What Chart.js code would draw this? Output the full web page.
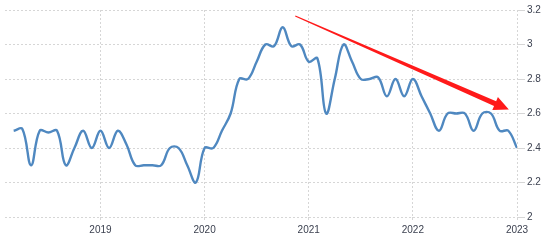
<!DOCTYPE html>
<html>
<head>
<meta charset="utf-8">
<script src="https://cdn.jsdelivr.net/npm/chart.js@4"></script>
<style>
html,body{margin:0;padding:0;background:#fff;}
#wrap{width:556px;height:246px;}
</style>
</head>
<body>
<div id="wrap"><canvas id="c" width="556" height="246"></canvas></div>
<script>
const months = [
 '2018-03','2018-04','2018-05','2018-06','2018-07','2018-08','2018-09','2018-10','2018-11','2018-12',
 '2019-01','2019-02','2019-03','2019-04','2019-05','2019-06','2019-07','2019-08','2019-09','2019-10','2019-11','2019-12',
 '2020-01','2020-02','2020-03','2020-04','2020-05','2020-06','2020-07','2020-08','2020-09','2020-10','2020-11','2020-12',
 '2021-01','2021-02','2021-03','2021-04','2021-05','2021-06','2021-07','2021-08','2021-09','2021-10','2021-11','2021-12',
 '2022-01','2022-02','2022-03','2022-04','2022-05','2022-06','2022-07','2022-08','2022-09','2022-10','2022-11','2022-12',
 '2023-01'
];
const values = [
 2.5,2.51,2.3,2.5,2.49,2.5,2.3,2.4,2.5,2.4,
 2.5,2.4,2.5,2.42,2.3,2.3,2.3,2.3,2.4,2.4,2.3,2.2,
 2.4,2.4,2.5,2.6,2.8,2.8,2.9,3.0,2.99,3.1,2.99,3.0,
 2.9,2.92,2.6,2.8,3.0,2.9,2.8,2.8,2.81,2.7,2.8,2.7,
 2.8,2.7,2.6,2.5,2.6,2.6,2.6,2.5,2.6,2.6,2.5,2.5,
 2.4
];
const yearTicks = ['2019','2020','2021','2022','2023'];
const yTicks = [2, 2.2, 2.4, 2.6, 2.8, 3, 3.2];
const yTickLabels = ['2','2.2','2.4','2.6','2.8','3','3.2'];
// trend arrow annotation in data space: [monthIndex, value]
const arrowStart = [34.45, 3.165];
const arrowEnd = [59.06, 2.623];

function monthIndex(s){ const [y,m]=s.split('-').map(Number); return (y-2018)*12 + (m-1); }
const points = months.map((m,i)=>({x:monthIndex(m), y:values[i]}));
const yearIdx = yearTicks.map(y=>(Number(y)-2018)*12);

const arrowPlugin = {
  id:'arrow',
  afterDatasetsDraw(chart){
    const xs=chart.scales.x, ys=chart.scales.y, ctx=chart.ctx;
    const x0=xs.getPixelForValue(arrowStart[0]), y0=ys.getPixelForValue(arrowStart[1]);
    const x1=xs.getPixelForValue(arrowEnd[0]), y1=ys.getPixelForValue(arrowEnd[1]);
    const dx=x1-x0, dy=y1-y0, L=Math.hypot(dx,dy);
    const ux=dx/L, uy=dy/L, nx=-uy, ny=ux;
    const headLen=15, headW=7, tailW=0.6, shaftW=2.6;
    const bx=x1-ux*headLen, by=y1-uy*headLen;
    ctx.save();
    ctx.setLineDash([]);
    ctx.fillStyle='#ff1a1a';
    ctx.beginPath();
    ctx.moveTo(x0+nx*tailW, y0+ny*tailW);
    ctx.lineTo(bx+nx*shaftW, by+ny*shaftW);
    ctx.lineTo(bx+nx*headW, by+ny*headW);
    ctx.lineTo(x1, y1);
    ctx.lineTo(bx-nx*headW, by-ny*headW);
    ctx.lineTo(bx-nx*shaftW, by-ny*shaftW);
    ctx.lineTo(x0-nx*tailW, y0-ny*tailW);
    ctx.closePath();
    ctx.fill();
    ctx.restore();
  }
};

new Chart(document.getElementById('c'), {
  type:'line',
  data:{ datasets:[{ data:points, borderColor:'#4f88c0', borderWidth:2.4, pointRadius:0, tension:0.4, fill:false }]},
  options:{
    responsive:false, animation:false,
    layout:{ padding:{ left:5, top:10, right:0, bottom:0 } },
    plugins:{ legend:{display:false}, tooltip:{enabled:false} },
    scales:{
      x:{
        type:'linear', min:1, max:60,
        afterBuildTicks(s){ s.ticks = yearIdx.map(v=>({value:v})); },
        afterFit(s){ s.height = 29; },
        grid:{ color:'#d6d6d6', lineWidth:1, drawTicks:true, tickLength:3 },
        border:{ display:false, dash:[2,2] },
        ticks:{ color:'#3c4150', font:{ family:'Liberation Sans, Arial', size:10 }, padding:4, maxRotation:0,
          callback(v){ const i=yearIdx.indexOf(v); return i>=0?yearTicks[i]:''; } }
      },
      y:{
        position:'right', min:2, max:3.2,
        afterBuildTicks(s){ s.ticks = yTicks.map(v=>({value:v})); },
        afterFit(s){ s.width = 39; },
        grid:{ color:'#d6d6d6', lineWidth:1, drawTicks:true, tickLength:8 },
        border:{ display:false, dash:[2,2] },
        ticks:{ color:'#3c4150', font:{ family:'Liberation Sans, Arial', size:10 }, padding:2, crossAlign:'near',
          callback(v){ const i=yTicks.indexOf(v); return i>=0?yTickLabels[i]:''; } }
      }
    }
  },
  plugins:[arrowPlugin]
});
</script>
</body>
</html>
